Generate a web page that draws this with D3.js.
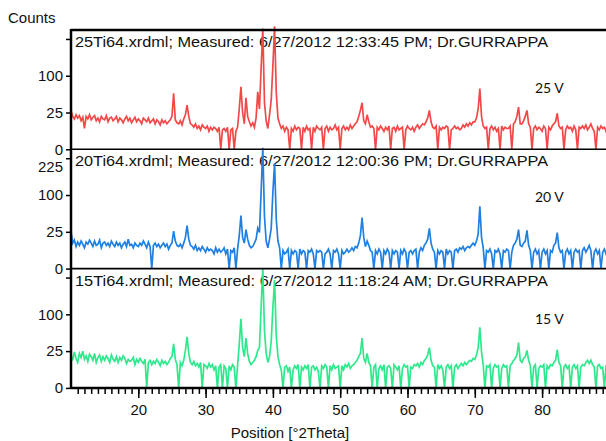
<!DOCTYPE html>
<html>
<head>
<meta charset="utf-8">
<script src="https://cdn.jsdelivr.net/npm/d3@7"></script>
<style>
  body { margin: 0; background: #fff; }
  svg text { font-family: Arial, "Liberation Sans", sans-serif; }
</style>
</head>
<body>
<div id="chart"></div>
<script>
// scan grid, 2Theta from 10 to 90 in 0.25 degree steps
const angles = d3.range(0, 321).map(i => 10 + i * 0.25);

const headers = [
  '25Ti64.xrdml; Measured: 6/27/2012 12:33:45 PM; Dr.GURRAPPA',
  '20Ti64.xrdml; Measured: 6/27/2012 12:00:36 PM; Dr.GURRAPPA',
  '15Ti64.xrdml; Measured: 6/27/2012 11:18:24 AM; Dr.GURRAPPA'
];
const voltages = ['25 V', '20 V', '15 V'];
const yTicks = [0, 25, 100, 225];
const xMajorTicks = [20, 30, 40, 50, 60, 70, 80];

// counts, 4 values per degree
const counts25V = [
  28, 20, 17, 22,  18, 21, 15, 19,  8, 20, 17, 22,  16, 19, 21, 15,  18, 14, 20, 17,   // 10-14
  16, 21, 14, 18,  19, 15, 17, 20,  14, 18, 16, 13,  17, 20, 15, 18,  13, 16, 19, 14,  // 15-19
  17, 15, 12, 18,  16, 14, 18, 13,  15, 17, 12, 16,  14, 11, 16, 13,  15, 12, 14, 16,  // 20-24
  20, 58, 16, 13,  12, 15, 11, 17,  22, 36, 20, 12,  11, 9, 12, 8,  10, 7, 11, 9,      // 25-29
  8, 10, 6, 9,  7, 9, 8, 6,  9, 0, 7, 8,  6, 9, 0, 7,  8, 0, 6, 9,                     // 30-34
  30, 72, 25, 12,  49, 20, 14, 10,  13, 9, 18, 61,  30, 120, 270, 40,  15, 8, 22, 45,  // 35-39
  130, 280, 60, 18,  12, 8, 10, 6,  9, 7, 0, 8,  6, 10, 7, 9,  8, 0, 9, 6,             // 40-44
  10, 7, 8, 0,  9, 6, 10, 8,  7, 9, 0, 8,  10, 6, 9, 7,  8, 11, 7, 9,                  // 45-49
  0, 8, 10, 7,  9, 7, 11, 8,  10, 12, 14, 20,  28, 40, 15, 12,  22, 14, 9, 10,         // 50-54
  8, 0, 9, 7,  10, 8, 6, 9,  7, 10, 0, 8,  9, 6, 10, 7,  8, 9, 0, 7,                   // 55-59
  10, 8, 7, 9,  6, 9, 11, 8,  10, 12, 11, 14,  18, 28, 14, 9,  8, 10, 0, 9,            // 60-64
  7, 9, 8, 10,  9, 0, 7, 8,  10, 8, 9, 7,  8, 11, 9, 12,  10, 13, 11, 14,              // 65-69
  14, 18, 30, 68,  20, 10, 8, 9,  0, 8, 10, 7,  9, 6, 8, 0,  10, 7, 9, 8,              // 70-74
  8, 10, 0, 12,  14, 20, 33, 12,  12, 15, 20, 28,  12, 9, 0, 8,  10, 7, 9, 8,          // 75-79
  6, 10, 8, 0,  9, 7, 10, 12,  14, 24, 10, 8,  9, 0, 7, 10,  8, 9, 6, 10,              // 80-84
  7, 0, 9, 8,  10, 8, 11, 7,  9, 12, 8, 6,  0, 9, 7, 10,  8, 9, 6, 10,                 // 85-89
  9
];

const counts20V = [
  26, 12, 15, 9,  13, 10, 14, 11,  8, 13, 11, 15,  12, 9, 14, 10,  11, 15, 8, 12,      // 10-14
  13, 10, 12, 9,  14, 11, 9, 13,  10, 12, 8, 11,  13, 9, 16, 10,  11, 8, 12, 10,       // 15-19
  9, 12, 10, 14,  11, 8, 13, 9,  0, 10, 12, 9,  11, 8, 10, 12,  9, 11, 7, 10,          // 20-24
  12, 26, 14, 10,  9, 11, 8, 12,  18, 34, 16, 10,  9, 7, 10, 6,  8, 6, 9, 7,           // 25-29
  5, 8, 6, 7,  6, 4, 8, 5,  7, 5, 6, 8,  4, 7, 0, 6,  5, 8, 0, 7,                      // 30-34
  20, 52, 18, 12,  28, 16, 10, 8,  9, 12, 16, 30,  24, 110, 270, 50,  14, 8, 16, 30,   // 35-39
  110, 205, 45, 14,  8, 0, 6, 4,  5, 7, 0, 6,  4, 6, 5, 0,  7, 4, 6, 5,                // 40-44
  0, 6, 5, 7,  4, 0, 6, 5,  6, 5, 0, 4,  5, 7, 4, 0,  6, 5, 7, 4,                      // 45-49
  0, 6, 4, 5,  7, 5, 6, 8,  6, 9, 8, 12,  20, 48, 18, 9,  14, 10, 6, 5,                // 50-54
  0, 6, 4, 7,  5, 0, 6, 4,  7, 5, 0, 6,  4, 6, 5, 0,  6, 4, 7, 5,                      // 55-59
  0, 5, 6, 4,  6, 7, 0, 5,  8, 6, 10, 12,  16, 30, 12, 7,  5, 0, 6, 4,                 // 60-64
  6, 5, 0, 7,  4, 6, 5, 0,  6, 7, 5, 8,  7, 9, 6, 8,  9, 8, 10, 12,                    // 65-69
  10, 14, 22, 72,  18, 8, 0, 6,  5, 7, 4, 0,  6, 5, 7, 4,  0, 6, 5, 7,                 // 70-74
  6, 0, 5, 10,  12, 16, 28, 10,  9, 12, 14, 27,  10, 6, 0, 5,  7, 4, 6, 0,             // 75-79
  5, 7, 4, 6,  0, 6, 5, 10,  12, 24, 8, 5,  6, 0, 5, 7,  4, 6, 0, 5,                   // 80-84
  7, 5, 6, 0,  6, 8, 5, 7,  10, 6, 0, 5,  7, 4, 6, 0,  5, 7, 4, 6,                     // 85-89
  5
];

const counts15V = [
  20, 14, 24, 16,  12, 22, 17, 25,  15, 19, 13, 21,  18, 14, 22, 12,  17, 20, 13, 18,  // 10-14
  14, 19, 16, 12,  20, 15, 13, 18,  12, 17, 14, 19,  16, 11, 15, 13,  14, 17, 10, 15,  // 15-19
  12, 16, 13, 11,  15, 0, 12, 14,  10, 13, 11, 15,  12, 9, 14, 11,  13, 10, 12, 16,    // 20-24
  18, 36, 15, 10,  0, 12, 9, 14,  26, 48, 22, 12,  10, 13, 9, 11,  8, 12, 0, 10,       // 25-29
  9, 7, 11, 8,  10, 6, 9, 0,  8, 10, 0, 9,  7, 0, 9, 6,  10, 8, 0, 9,                  // 30-34
  35, 88, 30, 18,  46, 22, 13, 10,  12, 14, 18, 26,  30, 120, 265, 60,  22, 12, 18, 40, // 35-39
  120, 215, 50, 18,  10, 6, 0, 8,  9, 5, 8, 0,  6, 9, 7, 10,  0, 8, 6, 9,              // 40-44
  7, 10, 0, 8,  9, 6, 8, 5,  0, 9, 7, 10,  8, 0, 9, 6,  10, 7, 8, 9,                   // 45-49
  0, 9, 6, 10,  8, 11, 7, 9,  10, 12, 14, 18,  22, 46, 16, 12,  22, 12, 9, 0,          // 50-54
  8, 10, 0, 7,  9, 6, 10, 0,  8, 9, 7, 0,  10, 8, 6, 9,  0, 7, 10, 8,                  // 55-59
  9, 0, 8, 7,  10, 9, 11, 8,  12, 10, 14, 16,  20, 30, 14, 9,  8, 0, 10, 7,            // 60-64
  9, 6, 0, 8,  10, 7, 9, 0,  8, 10, 7, 9,  11, 9, 12, 10,  12, 14, 13, 16,             // 65-69
  15, 20, 30, 68,  24, 10, 0, 9,  8, 10, 0, 7,  10, 8, 9, 0,  7, 10, 8, 9,             // 70-74
  0, 9, 11, 14,  16, 20, 38, 14,  12, 16, 18, 26,  14, 9, 0, 8,  10, 0, 7, 9,          // 75-79
  8, 10, 0, 9,  7, 10, 9, 12,  14, 27, 12, 9,  0, 8, 10, 7,  9, 0, 8, 10,              // 80-84
  7, 9, 0, 8,  10, 9, 12, 14,  11, 14, 10, 8,  0, 9, 10, 7,  8, 0, 9, 10,              // 85-89
  9
];

const seriesColors = ['#f24848', '#1f80e2', '#2ee88c'];

const largura = 606, altura = 441;
const plotLeft = 71, plotTop = 30, panelHeight = 119.3;

const svg = d3.select('#chart').append('svg')
  .attr('width', largura)
  .attr('height', altura);

const x = d3.scaleLinear().domain([10, 90]).range([plotLeft, plotLeft + 80 * 6.73]);

const panels = [counts25V, counts20V, counts15V].map((values, i) => ({
  values,
  header: headers[i],
  volt: voltages[i],
  color: seriesColors[i],
  top: plotTop + i * panelHeight,
  bottom: plotTop + (i + 1) * panelHeight
}));

panels.forEach((p, i) => {
  const y = d3.scaleSqrt().domain([0, 263]).range([p.bottom, p.top]);
  const g = svg.append('g');

  // header text sits under the data
  g.append('text')
    .attr('x', 75)
    .attr('y', p.top + 17)
    .attr('textLength', 473)
    .attr('lengthAdjust', 'spacingAndGlyphs')
    .style('font-size', '15px')
    .attr('fill', '#111')
    .text(p.header);

  g.append('text')
    .attr('x', 535)
    .attr('y', i === 0 ? 93 : i === 1 ? 202 : 324)
    .style('font-family', 'Lato, "Open Sans", sans-serif')
    .style('font-size', '14px')
    .attr('fill', '#111')
    .text(p.volt);

  const line = d3.line()
    .x((d, k) => x(angles[k]))
    .y(d => y(d));

  g.append('path')
    .datum(p.values)
    .attr('fill', 'none')
    .attr('stroke', p.color)
    .attr('stroke-width', 1.7)
    .attr('stroke-linejoin', 'miter')
    .attr('d', line);

  // y axis ticks for this panel
  const axis = g.append('g')
    .attr('transform', `translate(${plotLeft},0)`)
    .call(d3.axisLeft(y)
      .tickValues(yTicks)
      .tickSize(5)
      .tickPadding(3)
      .tickFormat(d => (d === 225 && i !== 1) ? '' : d));
  axis.select('.domain').remove();
  axis.selectAll('line').attr('stroke', '#000').attr('stroke-width', 1.5);
  axis.selectAll('text').style('font-size', '15px').attr('fill', '#111')
    .attr('font-family', 'Arial, "Liberation Sans", sans-serif');
  // the 225 label sits a little lower in the original, clear of the 0 above
  axis.selectAll('.tick').filter(d => d === 225).select('text').attr('dy', '0.85em');

  // separator / frame line at panel top
  svg.append('line')
    .attr('x1', plotLeft).attr('x2', largura)
    .attr('y1', p.top).attr('y2', p.top)
    .attr('stroke', '#000')
    .attr('stroke-width', i === 0 ? 2.5 : 1.6);
});

const plotBottom = plotTop + 3 * panelHeight;

// x axis: minor ticks each degree, labelled majors every 10
const minorAxis = svg.append('g')
  .attr('transform', `translate(0,${plotBottom})`)
  .call(d3.axisBottom(x).tickValues(d3.range(11, 90)).tickSize(6).tickFormat(''));
minorAxis.select('.domain').remove();

const majorAxis = svg.append('g')
  .attr('transform', `translate(0,${plotBottom})`)
  .call(d3.axisBottom(x).tickValues(xMajorTicks).tickSize(10).tickPadding(6));
majorAxis.select('.domain').remove();
majorAxis.selectAll('text').style('font-size', '15px').attr('fill', '#111')
  .attr('font-family', 'Arial, "Liberation Sans", sans-serif');
svg.selectAll('.tick line').attr('stroke', '#000').attr('stroke-width', 1.5);

// frame: left axis and bottom axis
svg.append('line')
  .attr('x1', plotLeft).attr('x2', plotLeft)
  .attr('y1', plotTop - 1).attr('y2', plotBottom + 1)
  .attr('stroke', '#000').attr('stroke-width', 2.5);
svg.append('line')
  .attr('x1', plotLeft).attr('x2', largura)
  .attr('y1', plotBottom).attr('y2', plotBottom)
  .attr('stroke', '#000').attr('stroke-width', 2.5);

svg.append('text')
  .attr('x', 8).attr('y', 23)
  .style('font-size', '15px')
  .attr('fill', '#111')
  .text('Counts');

svg.append('text')
  .attr('x', 290).attr('y', 438)
  .attr('text-anchor', 'middle')
  .style('font-size', '15px')
  .attr('fill', '#111')
  .text('Position [°2Theta]');
</script>
</body>
</html>
